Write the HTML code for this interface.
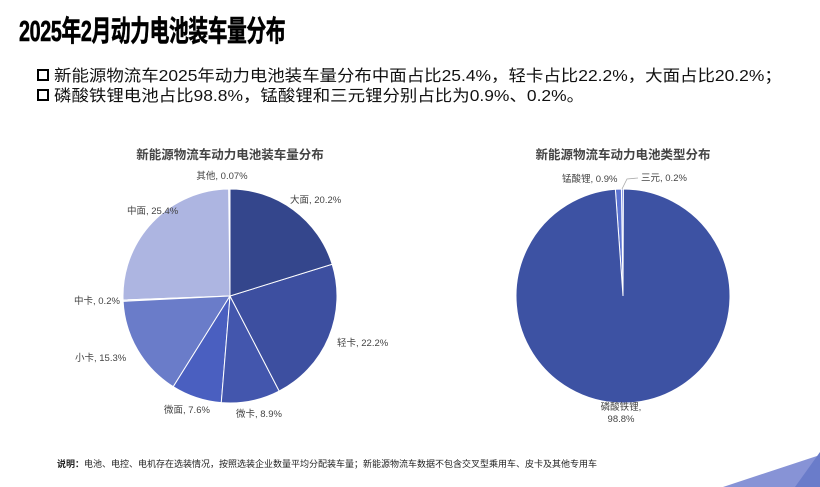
<!DOCTYPE html>
<html><head><meta charset="utf-8"><style>
body{margin:0;width:820px;height:487px;background:#fff;overflow:hidden;position:relative;font-family:"Liberation Sans","Noto Sans CJK SC",sans-serif;}
.t{position:absolute;left:19px;top:8px;font-size:29px;font-weight:bold;color:#000;letter-spacing:-0.5px;transform:scaleX(0.68);transform-origin:0 0;white-space:nowrap;-webkit-text-stroke:0.6px #000;}
.b{position:absolute;left:37px;font-size:16px;color:#111;white-space:nowrap;}
.b span{display:inline-block;width:8px;height:8px;border:2px solid #000;margin-right:5px;vertical-align:0px;}
.b i{font-style:normal;display:inline-block;transform:scaleX(1.09);transform-origin:0 0;}
</style></head><body>
<div class="t">2025年2月动力电池装车量分布</div>
<div class="b" style="top:62px"><span></span><i>新能源物流车2025年动力电池装车量分布中面占比25.4%，轻卡占比22.2%，大面占比20.2%；</i></div>
<div class="b" style="top:82px"><span></span><i>磷酸铁锂电池占比98.8%，锰酸锂和三元锂分别占比为0.9%、0.2%。</i></div>
<svg id="s" width="820" height="487" style="position:absolute;left:0;top:0" font-family="Liberation Sans, Noto Sans CJK SC, sans-serif">
<text x="230" y="159" text-anchor="middle" font-size="12.5" font-weight="bold" fill="#444">新能源物流车动力电池装车量分布</text>
<text x="623" y="159" text-anchor="middle" font-size="12.5" font-weight="bold" fill="#444">新能源物流车动力电池类型分布</text>
<g font-size="9.5" fill="#444">
<text x="222" y="179" text-anchor="middle">其他, 0.07%</text>
<text x="290" y="203">大面, 20.2%</text>
<text x="337" y="346">轻卡, 22.2%</text>
<text x="236" y="417">微卡, 8.9%</text>
<text x="164" y="413">微面, 7.6%</text>
<text x="75" y="361">小卡, 15.3%</text>
<text x="74" y="304">中卡, 0.2%</text>
<text x="127" y="214">中面, 25.4%</text>
<text x="562" y="182">锰酸锂, 0.9%</text>
<text x="641" y="181">三元, 0.2%</text>
<text x="621" y="410" text-anchor="middle">磷酸铁锂,</text>
<text x="621" y="422" text-anchor="middle">98.8%</text>
</g>
<polyline points="622,189 627,179 638,178" fill="none" stroke="#aaa" stroke-width="0.8"/>
<text x="57" y="467" font-size="9" fill="#222"><tspan font-weight="bold">说明：</tspan>电池、电控、电机存在选装情况，按照选装企业数量平均分配装车量；新能源物流车数据不包含交叉型乘用车、皮卡及其他专用车</text>
<polygon points="723,487 820,455 820,487" fill="#8793d6"/>
<polygon points="795,487 820,452 820,487" fill="#6a7cca"/>
</svg>
<script>
var s=document.getElementById('s'),NS='http://www.w3.org/2000/svg';
function pie(cx,cy,r,data){var a=data.start;data.v.forEach(function(d){var a2=a+d[0]/100*2*Math.PI;
var x1=cx+r*Math.sin(a),y1=cy-r*Math.cos(a),x2=cx+r*Math.sin(a2),y2=cy-r*Math.cos(a2);
var p=document.createElementNS(NS,'path');p.setAttribute('d','M'+cx+','+cy+'L'+x1+','+y1+'A'+r+','+r+' 0 '+((a2-a)>Math.PI?1:0)+' 1 '+x2+','+y2+'Z');
p.setAttribute('fill',d[1]);p.setAttribute('stroke','#fff');p.setAttribute('stroke-width','1');s.insertBefore(p,s.firstChild);a=a2;});}
pie(230,296,107,{start:0,v:[[20.2,'#34468c'],[22.2,'#3d4fa0'],[8.9,'#4356ad'],[7.6,'#4a5fc0'],[15.3,'#6a7cc9'],[0.2,'#c9cfee'],[25.4,'#adb5e1'],[0.2,'#d9dcf2']]});
pie(623,296,107,{start:0.004,v:[[98.8,'#3d52a3'],[0.9,'#5b72d0'],[0.3,'#7a8ee0']]});
</script>
</body></html>
